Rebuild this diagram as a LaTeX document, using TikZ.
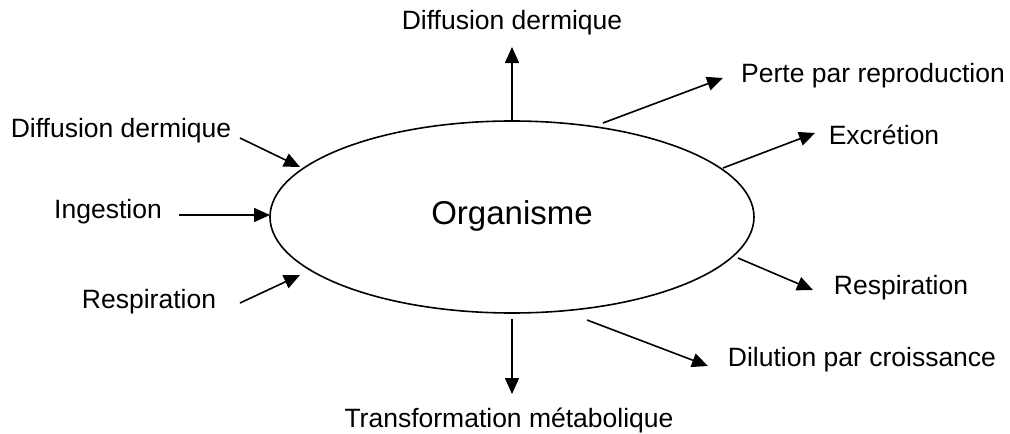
\documentclass[tikz,border=0pt]{standalone}
\usepackage{fontspec}
\setmainfont{Liberation Sans}
\usetikzlibrary{arrows.meta}

\tikzset{
    flux/.style={-{Triangle[length=16pt,width=14pt]}, line width=1.6pt},
    lbl/.style={font=\fontsize{26.5}{30}\selectfont, inner sep=0pt, yshift=-3pt},
}

\begin{document}
\begin{tikzpicture}[x=1pt, y=-1pt]
        \useasboundingbox (0,0) rectangle (1010,434);

        \draw[line width=1.6pt] (512,217) ellipse (242 and 96);
        \node[font=\fontsize{33}{38}\selectfont] (org) at (512,216) {Organisme};

        % entrees (gauche)
        \node[lbl] (dermin) at (121,128) {Diffusion dermique};
        \node[lbl] (ingest) at (108,209) {Ingestion};
        \node[lbl] (respin) at (149,299) {Respiration};

        \coordinate (a1) at (240,138); \coordinate (b1) at (300,167);
        \coordinate (a2) at (179,215); \coordinate (b2) at (270,215);
        \coordinate (a3) at (240,303); \coordinate (b3) at (300,275);

        \draw[flux] (a1) -- (b1);
        \draw[flux] (a2) -- (b2);
        \draw[flux] (a3) -- (b3);

        % sorties
        \node[lbl] (dermout) at (512,20) {Diffusion dermique};
        \node[lbl] (repro) at (873,73) {Perte par reproduction};
        \node[lbl] (excr) at (884,132) {Excrétion};
        \node[lbl] (respout) at (901,285) {Respiration};
        \node[lbl] (dilut) at (862,357) {Dilution par croissance};
        \node[lbl] (transf) at (509,417) {Transformation métabolique};

        \coordinate (c1) at (512,122); \coordinate (d1) at (512,47);
        \coordinate (c2) at (603,123); \coordinate (d2) at (723,78);
        \coordinate (c3) at (723,168); \coordinate (d3) at (815,133);
        \coordinate (c4) at (738,258); \coordinate (d4) at (813,290);
        \coordinate (c5) at (587,320); \coordinate (d5) at (708,366);
        \coordinate (c6) at (512,319); \coordinate (d6) at (512,394);

        \foreach \i in {1,...,6}
            \draw[flux] (c\i) -- (d\i);
    \end{tikzpicture}
\end{document}
